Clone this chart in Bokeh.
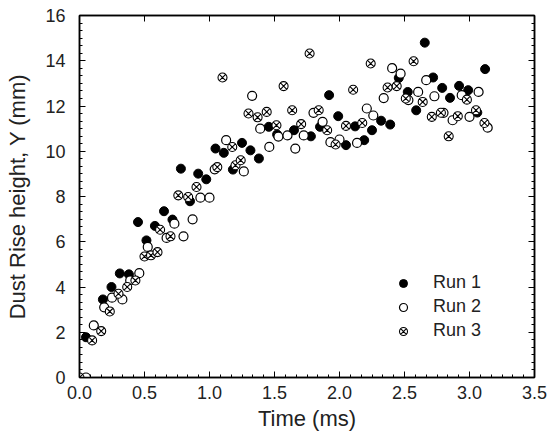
from bokeh.plotting import figure
from bokeh.models import (Range1d, LinearAxis, SingleIntervalTicker, Legend, LegendItem,
                          PrintfTickFormatter, CustomJSTickFormatter)
from bokeh.embed import file_html
from bokeh.resources import INLINE

# ---- data ----
run1_t = [0.05, 0.18, 0.246, 0.31, 0.38, 0.45, 0.515, 0.58, 0.65, 0.715, 0.78, 0.85,
          0.913, 0.975, 1.046, 1.11, 1.18, 1.25, 1.315, 1.38, 1.456, 1.52, 1.65, 1.78,
          1.85, 1.92, 1.99, 2.05, 2.12, 2.19, 2.25, 2.32, 2.39, 2.456, 2.525, 2.59,
          2.656, 2.72, 2.79, 2.85, 2.92, 2.99, 3.06, 3.12]
run1_y = [1.78, 3.45, 4.0, 4.6, 4.56, 6.87, 6.06, 6.7, 7.35, 6.98, 9.23, 7.79,
          9.01, 8.76, 10.12, 9.93, 9.19, 10.37, 10.04, 9.68, 11.08, 10.74, 10.93, 10.66,
          11.08, 12.48, 11.55, 10.27, 11.1, 10.49, 10.93, 11.35, 11.18, 13.24, 12.62, 11.81,
          14.8, 13.26, 12.8, 12.36, 12.89, 12.7, 11.71, 13.63]

run2_t = [0.05, 0.11, 0.19, 0.25, 0.33, 0.39, 0.46, 0.525, 0.67, 0.73, 0.80, 0.87,
          0.93, 1.0, 1.04, 1.128, 1.264, 1.328, 1.39, 1.46, 1.53, 1.60, 1.66, 1.725,
          1.80, 1.87, 1.93, 2.0, 2.135, 2.21, 2.26, 2.34, 2.405, 2.47, 2.53, 2.605,
          2.667, 2.73, 2.80, 2.87, 2.94, 3.0, 3.07, 3.14]
run2_y = [0.0, 2.3, 3.1, 3.53, 3.45, 4.29, 4.61, 5.77, 6.17, 6.8, 6.24, 6.99,
          7.95, 7.95, 9.2, 10.49, 9.11, 12.45, 11.0, 10.19, 10.65, 10.7, 10.12, 10.7,
          11.7, 11.3, 10.4, 10.52, 10.37, 11.89, 11.58, 12.35, 13.67, 13.43, 12.26, 12.62,
          13.14, 12.43, 11.7, 11.37, 12.48, 11.52, 12.62, 11.04]

run3_t = [0.0, 0.097, 0.167, 0.233, 0.30, 0.367, 0.43, 0.50, 0.55, 0.60, 0.62, 0.70,
          0.76, 0.836, 0.90, 1.06, 1.10, 1.175, 1.2, 1.24, 1.30, 1.37, 1.44, 1.515,
          1.57, 1.636, 1.705, 1.77, 1.84, 1.905, 1.97, 2.05, 2.105, 2.175, 2.24, 2.37,
          2.44, 2.51, 2.57, 2.64, 2.71, 2.78, 2.84, 2.91, 2.98, 3.05, 3.115]
run3_y = [0.0, 1.64, 2.05, 2.92, 3.7, 4.0, 4.29, 5.35, 5.4, 5.54, 6.53, 6.24,
          8.05, 7.98, 8.42, 9.3, 13.26, 10.19, 9.38, 9.6, 11.67, 11.5, 11.74, 11.15,
          12.88, 11.81, 11.2, 14.32, 11.81, 10.93, 10.3, 11.12, 12.72, 11.25, 13.88, 12.82,
          12.88, 12.33, 13.98, 12.18, 11.52, 11.7, 10.66, 11.55, 12.28, 11.81, 11.25]

series_labels = ["Run 1", "Run 2", "Run 3"]
x_label = "Time (ms)"
y_label = "Dust Rise height, Y (mm)"

FONT = "Liberation Sans"
TXT = "#222222"

p = figure(width=549, height=442, output_backend="svg", toolbar_location=None,
           x_range=Range1d(0, 3.5), y_range=Range1d(0, 16),
           min_border_left=79, min_border_right=15, min_border_top=15, min_border_bottom=65)
p.background_fill_color = "white"
p.border_fill_color = "white"
p.grid.visible = False
p.outline_line_color = "black"
p.outline_line_width = 1.5

p.xaxis.ticker = SingleIntervalTicker(interval=0.5, num_minor_ticks=6)
p.yaxis.ticker = SingleIntervalTicker(interval=2, num_minor_ticks=6)
p.xaxis.formatter = PrintfTickFormatter(format="%.1f")

for ax in (p.xaxis[0], p.yaxis[0]):
    ax.axis_line_color = "black"
    ax.axis_line_width = 1.5
    ax.major_tick_in = 6
    ax.major_tick_out = 0
    ax.minor_tick_in = 3
    ax.minor_tick_out = 0
    ax.major_tick_line_color = "black"
    ax.minor_tick_line_color = "black"
    ax.major_label_text_font = FONT
    ax.major_label_text_font_size = "18px"
    ax.major_label_text_color = TXT
    ax.axis_label_text_font = FONT
    ax.axis_label_text_font_size = "22px"
    ax.axis_label_text_font_style = "normal"
    ax.axis_label_text_color = TXT

p.xaxis.axis_label = x_label
p.yaxis.axis_label = y_label
p.xaxis.major_label_standoff = 8
p.xaxis.axis_label_standoff = 4
p.yaxis.major_label_standoff = 14
p.yaxis.axis_label_standoff = 12

blank = CustomJSTickFormatter(code="return '';")
top = LinearAxis(ticker=SingleIntervalTicker(interval=0.5, num_minor_ticks=6),
                 formatter=blank, major_label_standoff=0,
                 axis_line_color="black", axis_line_width=1.5,
                 major_tick_in=6, major_tick_out=0, minor_tick_in=0, minor_tick_out=0,
                 minor_tick_line_color=None)
right = LinearAxis(ticker=SingleIntervalTicker(interval=2, num_minor_ticks=6),
                   formatter=blank, major_label_standoff=0,
                   axis_line_color="black", axis_line_width=1.5,
                   major_tick_in=6, major_tick_out=0, minor_tick_in=3, minor_tick_out=0)
p.add_layout(top, "above")
p.add_layout(right, "right")

r1 = p.scatter(run1_t, run1_y, marker="circle", size=9, fill_color="black", line_color="black")
r2 = p.scatter(run2_t, run2_y, marker="circle", size=9, fill_color="white", line_color="black",
               line_width=1.2)
r3 = p.scatter(run3_t, run3_y, marker="circle_x", size=9, fill_color="white", line_color="black",
               line_width=1.1)

legend = Legend(items=[LegendItem(label=series_labels[0], renderers=[r1]),
                       LegendItem(label=series_labels[1], renderers=[r2]),
                       LegendItem(label=series_labels[2], renderers=[r3])],
                location=(314, 36), padding=0, margin=0, spacing=3,
                glyph_width=20, glyph_height=20, label_standoff=20,
                label_text_font=FONT, label_text_font_size="18px", label_text_color=TXT,
                background_fill_alpha=0, border_line_color=None)
p.add_layout(legend, "center")

open("out.html", "w").write(file_html(p, INLINE))
